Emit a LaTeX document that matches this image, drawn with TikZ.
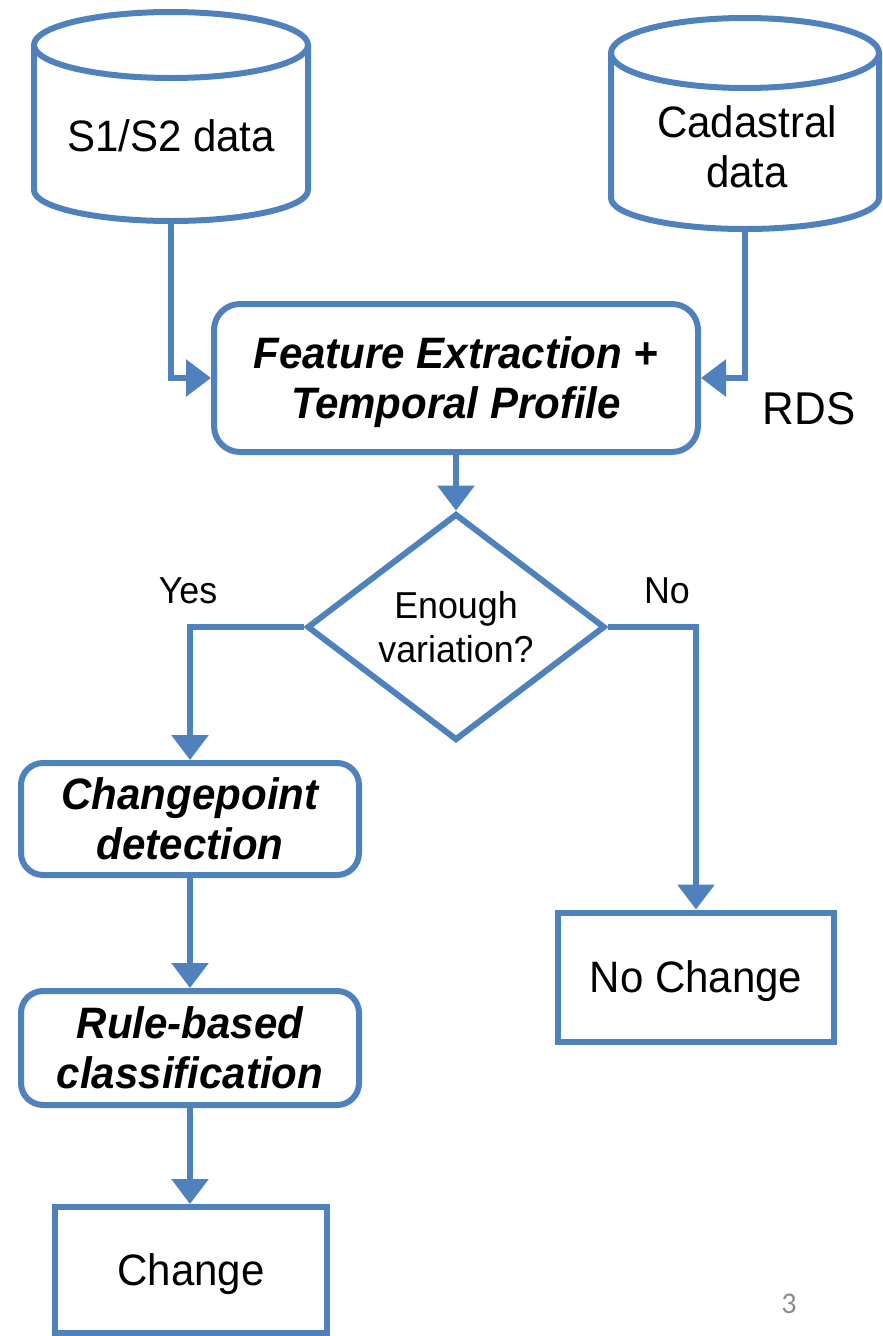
\documentclass[tikz,border=0pt]{standalone}
\usepackage{fontspec}
\setmainfont{Liberation Sans}[FakeStretch=0.955]
\newfontfamily\pagenumfont{Carlito}
\usetikzlibrary{arrows.meta,shapes.geometric}
\definecolor{flowblue}{RGB}{79,129,189}
\definecolor{pagegray}{RGB}{140,140,140}
\begin{document}
\begin{tikzpicture}[x=1pt,y=-1pt,
  flowline/.style={draw=flowblue, line width=6pt},
  arr/.style={flowline, -{Triangle[width=36pt,length=25pt]}},
  cyl/.style={draw=flowblue, line width=6pt},
  procbox/.style={draw=flowblue, line width=6pt, rounded corners=26pt, fill=white,
    align=center, inner sep=0pt, font=\bfseries\itshape\fontsize{44}{50}\selectfont},
  termbox/.style={draw=flowblue, line width=6pt, fill=white, align=center, inner sep=0pt,
    text depth=0pt, font=\fontsize{44}{50}\selectfont},
  decision/.style={draw=flowblue, line width=6pt, diamond, inner sep=0pt, align=center,
    font=\fontsize{37.5}{44}\selectfont},
  lbl/.style={font=\fontsize{37.5}{44}\selectfont, inner sep=0pt},
  bigtext/.style={font=\fontsize{44}{50}\selectfont, align=center, inner sep=0pt}
]
\useasboundingbox (0,0) rectangle (883,1336);

% cylinder S1/S2
\draw[cyl] (171,45) ellipse [x radius=137pt, y radius=33pt];
\draw[cyl] (34,45) -- (34,190) arc[start angle=180, end angle=360, x radius=137pt, y radius=31pt] -- (308,45);
\node[bigtext] (s1) at (171,136) {S1/S2 data};
\coordinate (s1b) at (171,221);

% cylinder Cadastral
\draw[cyl] (745,53) ellipse [x radius=134pt, y radius=35pt];
\draw[cyl] (611,53) -- (611,198) arc[start angle=180, end angle=360, x radius=134pt, y radius=31pt] -- (879,53);
\node[bigtext] (cad) at (747,147) {Cadastral\\data};
\coordinate (cadb) at (745,229);

% main process
\node[procbox, minimum width=484pt, minimum height=148pt, text depth=0pt] (fe) at (456,378)
  {Feature Extraction +\\Temporal Profile};
\node[font=\fontsize{46}{50}\selectfont, inner sep=0pt] (rds) at (809,409) {RDS};

\draw[arr] (s1b) |- (fe.west);
\draw[arr] (cadb) |- (fe.east);

% decision
\node[decision, minimum width=298pt, minimum height=211pt] (dia) at (456,627)
  {Enough\\variation?};
\draw[arr] (fe.south) -- (dia.north);

\node[lbl] (yes) at (188,591) {Yes};
\node[lbl] (no) at (667,591) {No};

% left branch
\node[procbox, rounded corners=22pt, minimum width=338pt, minimum height=112pt] (cp) at (190,819)
  {Changepoint\\detection};
\node[procbox, rounded corners=22pt, minimum width=338pt, minimum height=114pt] (rb) at (190,1048)
  {Rule-based\\classification};
\node[termbox, minimum width=272pt, minimum height=126pt] (ch) at (191,1270) {Change};

% right branch
\node[termbox, minimum width=276pt, minimum height=129pt] (nc) at (696,977) {No Change};

\draw[arr] (dia.west) -| (cp.north);
\draw[arr] (dia.east) -| (nc.north);
\draw[arr] (cp.south) -- (rb.north);
\draw[arr] (rb.south) -- (rb.south |- ch.north);

\node[text=pagegray, inner sep=0pt] (pg) at (789,1304) {\pagenumfont\fontsize{30}{30}\selectfont 3};
\end{tikzpicture}
\end{document}
